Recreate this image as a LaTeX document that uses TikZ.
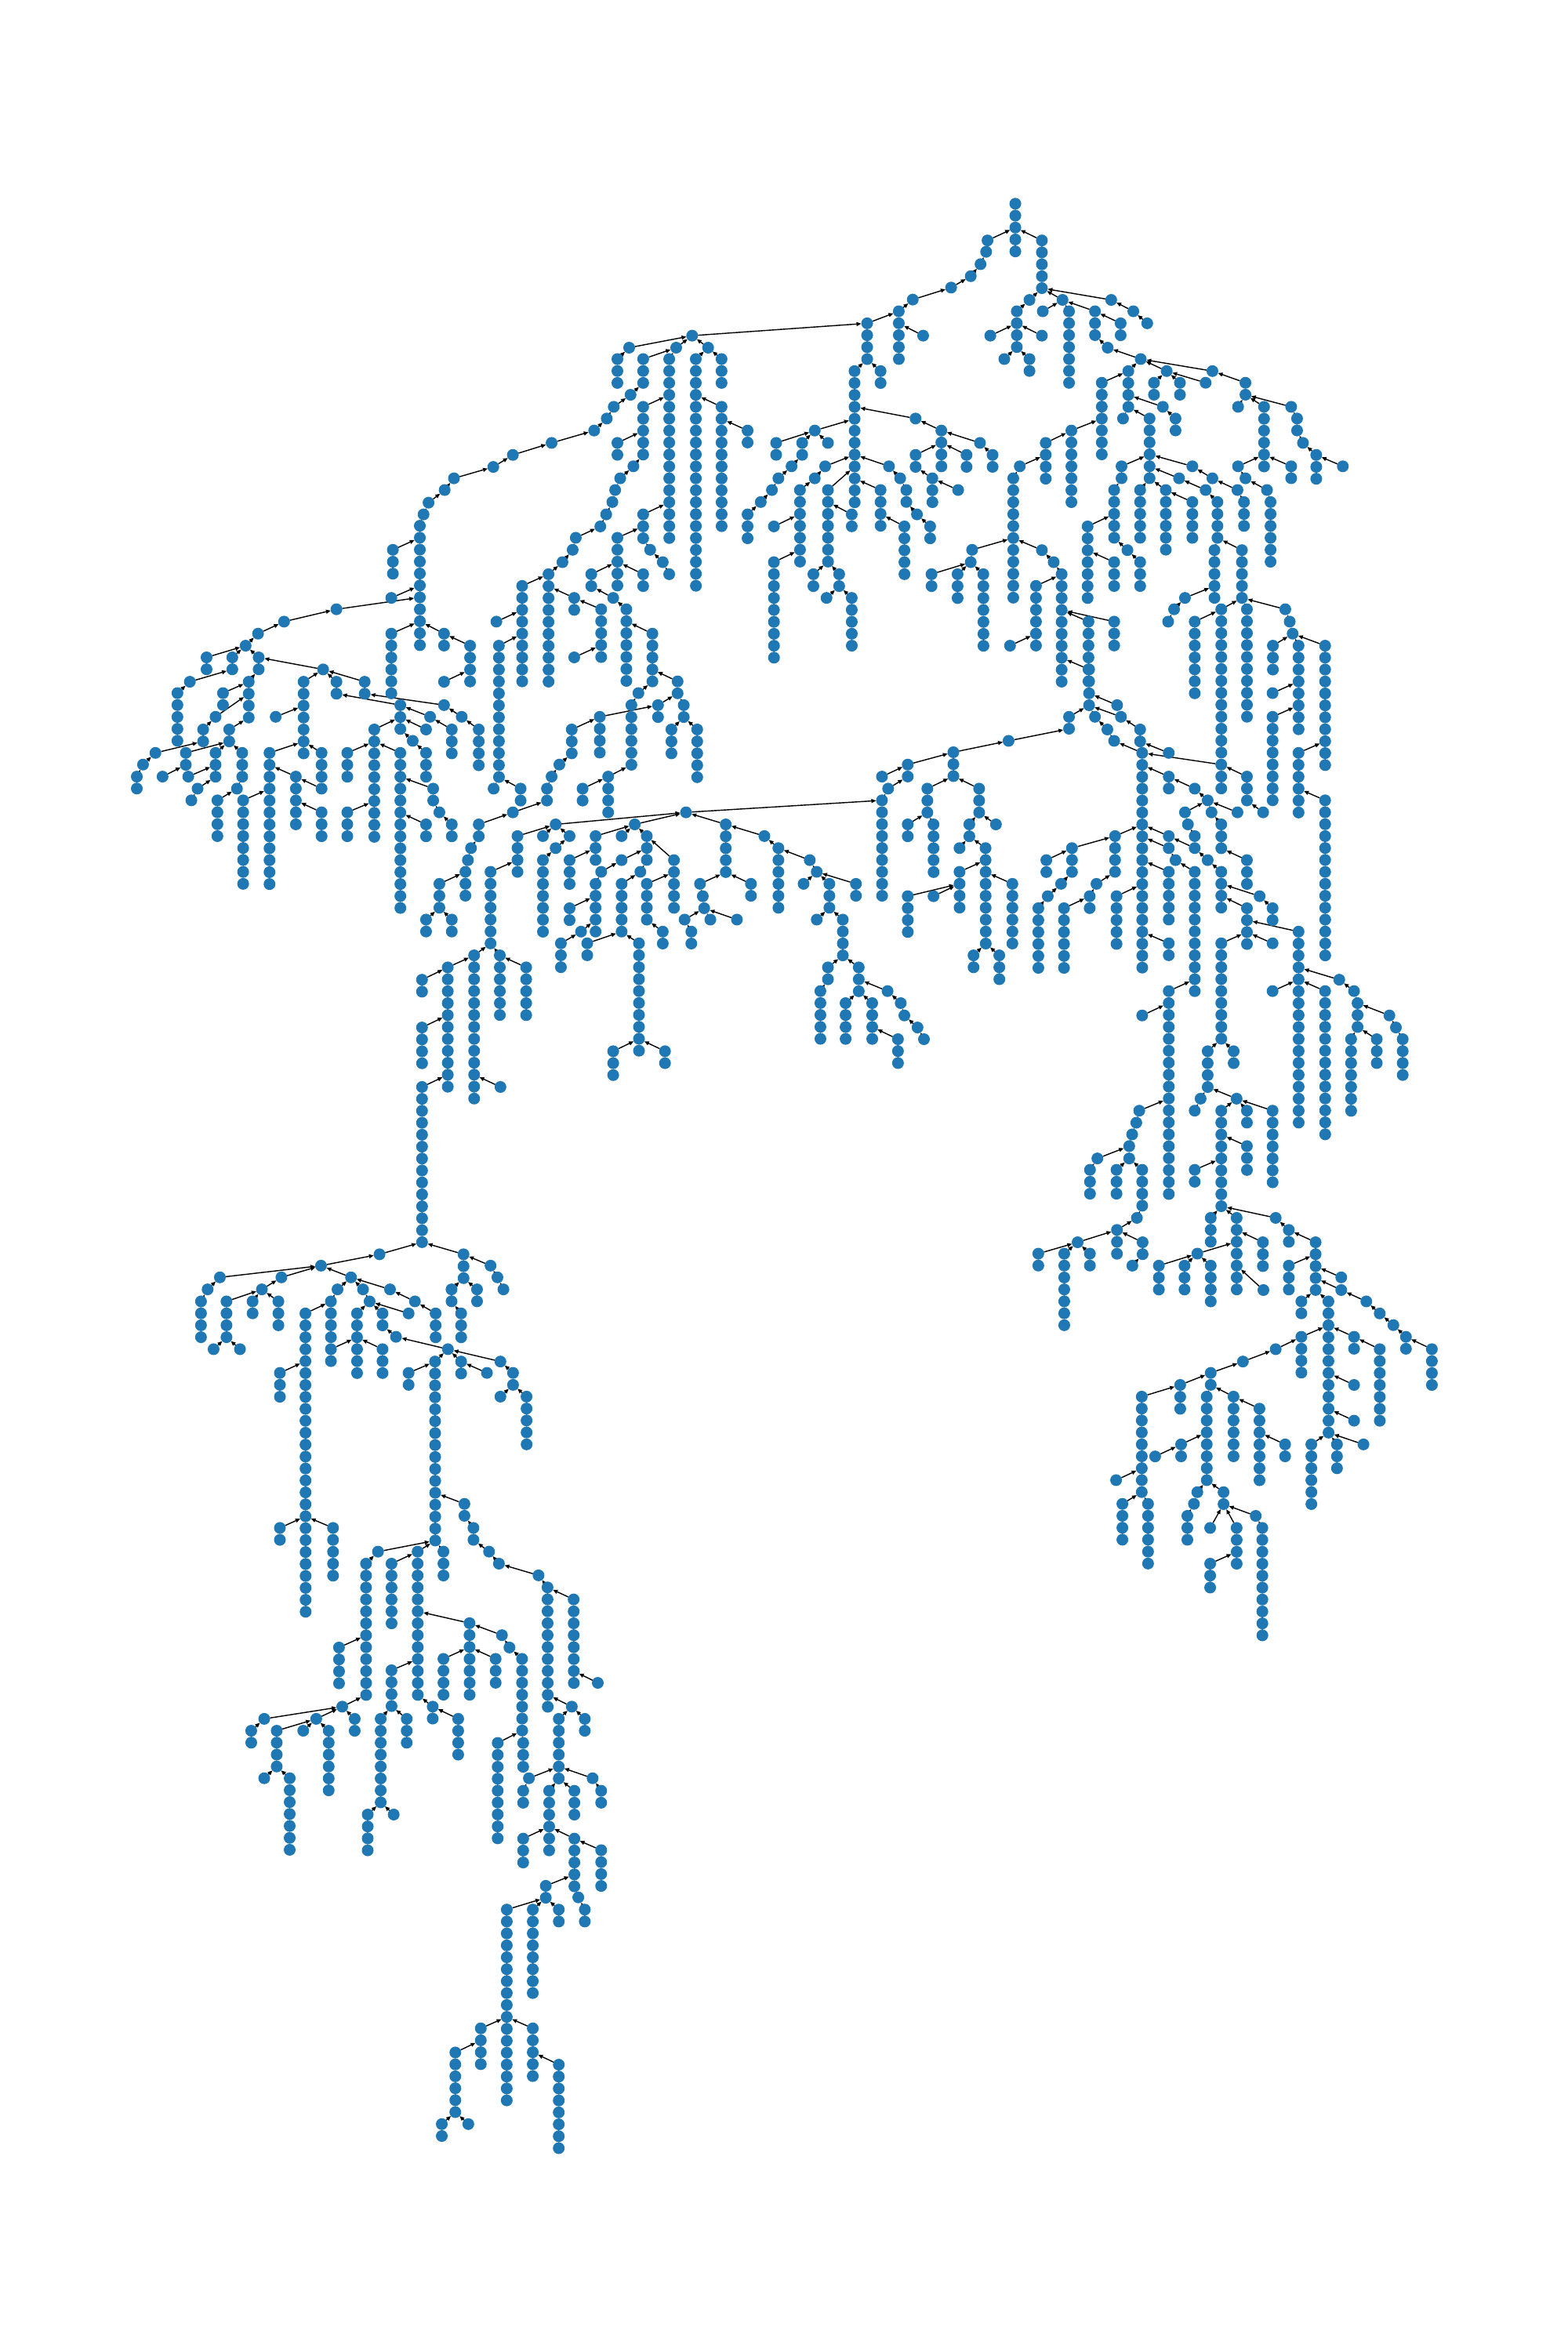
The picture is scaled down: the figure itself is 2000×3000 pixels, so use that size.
\documentclass[tikz,border=0pt]{standalone}
\usepackage{tikz}
\usepackage{xcolor}
\usetikzlibrary{
    arrows.meta, positioning, backgrounds
}
\definecolor{mblue}{HTML}{1f77b4}

\begin{document}
\begin{tikzpicture}[x=0.01cm, y=-0.01cm,
	leaf/.style={circle, fill=mblue, draw=none, inner sep=0pt, outer sep=0pt, minimum size=0.15cm},
	twig/.style={-{Triangle[length=0.6mm, width=0.5mm]}, line width=0.4pt, black}]
	\def\dotchain#1#2#3#4{
		\node[leaf] (#1-1) at (#2,#3) {};
		\ifnum#4>1
		\foreach \k [remember=\k as \j (initially 1)] in {2,...,#4}{
			\node[leaf, below=0.02mm of #1-\j] (#1-\k) {};
		}
		\fi
	}
	\def\chainlinks#1#2{
		\ifnum#2>1
		\foreach \k [remember=\k as \j (initially 1)] in {2,...,#2}{
			\draw[twig] (#1-\k) -- (#1-\j);
		}
		\fi
	}
	\useasboundingbox (0,0) rectangle (2000,3000);
%	\draw[red] (0,0) rectangle (2000,3000);

	\def\rowA{a1/1400/808/1, a2/1275/845/1, a3/1212/882/1, a4/1085/917/1, a5/1055/953/1,
		a6/1003/992/1, a7/987/1028/1, a8/975/1063/11, a9/888/1137/3, a10/883/1285/1, a11/706/1320/1,
		a12/537/1358/1, a13/453/1395/1, a14/413/1432/1, a15/287/1468/2, a16/370/1468/2, a17/233/1543/1,
		a18/455/1468/2, a19/423/1543/4, a20/663/1505/1, a21/600/1543/7, a22/706/1543/2, a23/797/1543/2,
		a25/883/1395/6, a26/1053/1395/2, a27/1137/1432/4, a28/1053/1543/1, a29/1222/1358/1, a30/1305/1248/9,
		a31/1390/1212/10, a32/1435/1175/1, a33/1468/1137/1, a34/1478/1100/1, a35/1473/1285/2, a36/1528/1212/2,
		a37/1473/1468/1, a38/1230/1432/12}
	\def\rowB{b1/1455/185/1, b2/1450/220/1, b3/1430/258/1, b4/1395/295/1, b5/1325/330/1,
		b6/1188/367/1, b7/1138/403/5, b8/1225/478/1, b9/1025/440/4, b10/1073/587/2, b11/980/587/12,
		b12/400/478/1, b13/175/515/1, b14/133/550/3, b15/343/515/1, b16/225/550/3, b17/318/550/16,
		b18/457/515/1, b19/413/550/20, b20/505/550/3, b21/505/697/11, b22/598/770/2, b23/180/660/1,
		b24/120/697/1, b25/95/733/1, b26/50/770/1, b27/225/697/5, b28/133/808/2, b29/190/880/1,
		b30/143/917/1, b31/125/953/1, b32/115/990/1, b33/93/1028/1, b34/72/1065/1, b35/225/1028/3,
		b36/133/1100/5, b37/250/1137/1, b38/295/1175/1, b39/318/1212/1, b40/225/1212/2, b42/118/1285/1,
		b43/75/1320/5, b44/165/1320/7, b45/258/1395/5, b47/1198/733/1, b48/1290/770/4, b49/1428/808/1,
		b50/1473/845/2, b51/1198/845/2, b52/1380/845/2, b53/1258/917/3, b54/1350/953/1, b55/838/770/1,
		b56/700/808/2, b57/793/808/2, b58/885/808/1, b59/755/880/1, b60/708/917/1, b61/685/953/1,
		b62/645/990/1, b63/598/1028/3, b64/875/880/1, b65/838/917/1, b66/785/953/7, b67/692/1065/1,
		b68/692/1175/9, b69/885/953/7, b70/970/1028/2, b71/1073/953/4, b72/1103/880/1, b73/1143/917/1,
		b74/1165/953/2, b75/1203/1028/1, b76/1250/1065/2, b77/1158/1065/5, b78/833/1212/2, b79/925/1212/2,
		b80/880/1285/1, b81/970/1285/5, b82/1400/1137/1, b83/1395/1175/1, b84/1255/1212/2, b85/1348/1212/3,
		b86/1440/1212/7, b89/1515/550/1, b90/1465/478/1}
	\def\rowC{c1/40/72/5, c2/130/185/5, c3/88/368/1, c4/200/368/1, c5/365/368/1,
		c6/45/403/4, c7/130/478/1, c8/88/550/2, c9/133/403/1, c10/222/403/7, c11/310/403/3, c12/397/440/2,
		c13/353/515/1, c14/465/550/1, c15/440/403/1, c16/487/440/1, c17/423/587/4, c18/553/587/1,
		c19/708/587/1, c20/510/623/2, c21/598/623/2, c22/685/623/1, c23/820/623/2, c24/795/697/1,
		c25/883/697/6, c26/975/697/1, c27/995/733/2, c28/1015/808/1, c29/1060/845/3, c30/1150/880/1,
		c31/795/880/1, c32/975/880/2, c33/820/917/1, c34/893/953/1, c35/905/990/6, c36/540/697/1,
		c37/583/733/2, c38/405/733/1, c39/495/733/6, c40/333/623/7, c41/230/770/7, c42/143/808/4,
		c43/55/880/1, c44/33/917/11, c45/130/1138/1, c46/170/1175/1, c47/197/1212/10, c48/110/1248/6,
		c49/22/1432/1, c50/288/1358/6, c51/375/1358/3, c52/290/1505/4, c53/400/880/2, c54/375/953/5,
		c55/420/1138/1, c56/463/1175/3, c57/285/1065/7, c58/375/1175/3, c59/640/880/1, c60/595/917/1,
		c61/463/953/5, c62/550/953/6, c63/640/990/4, c64/685/953/1, c65/725/990/4, c66/708/917/1,
		c67/793/953/1, c68/815/990/3, c69/715/1138/5, c70/808/1138/5, c71/615/1285/1, c72/578/1320/1,
		c73/558/1358/1, c74/738/1320/13, c75/825/1320/10, c76/955/1320/1, c77/648/1358/7, c78/970/1358/1,
		c79/980/1395/1, c80/913/1432/3, c81/1000/1432/8, c82/1090/1432/11}
	\def\rowD{d1/193/58/5, d2/340/58/2, d3/316/131/1, d4/276/170/2, d6/122/242/1,
		d7/82/278/1, d8/62/315/2, d9/360/170/2, d10/220/242/2, d11/316/242/3, d12/145/315/1, d13/228/315/1,
		d14/258/352/1, d15/238/388/1, d16/402/242/3, d17/385/352/1, d18/322/388/4, d19/405/388/8,
		d20/490/242/12, d21/510/131/1, d22/575/315/5, d23/658/352/1, d24/658/425/3, d25/658/242/3,
		d26/741/242/3, d27/912/95/3, d28/828/170/10, d29/741/425/3, d30/912/242/14, d31/1018/352/2,
		d32/1038/425/1, d33/1078/462/2, d34/995/462/2, d35/952/205/1, d36/995/242/3, d37/1008/131/1,
		d38/995/170/1, d39/1078/170/3, d40/1053/95/1, d41/1110/131/1, d42/1165/170/4, d43/1213/352/1,
		d44/1300/352/2, d45/1465/170/3, d46/1425/278/1, d47/1400/315/1, d48/1385/352/2, d49/1275/425/1,
		d50/1165/462/2, d51/1140/535/1, d52/1130/572/1, d53/1122/608/3, d54/1038/645/3, d55/995/755/2,
		d56/1078/755/2, d57/1500/352/2, d58/1413/462/1, d59/1290/498/4, d60/1372/498/1, d61/1458/498/1,
		d62/1413/535/1, d63/1372/572/7, d64/1203/608/7, d65/1150/865/13, d66/1233/865/6, d67/1318/902/5,
		d68/1065/902/11, d69/982/940/2, d70/982/1087/4, d71/1235/1270/1, d72/982/1270/14, d73/1458/572/3,
		d74/1458/720/2, d75/1430/828/3, d76/1495/792/1, d77/1515/828/2}
	\def\rowE{e1/348/22/2, e2/208/58/1, e3/183/95/6, e4/278/95/2, e5/370/95/2,
		e6/70/131/4, e7/326/170/3, e8/418/170/5, e9/100/315/4, e11/378/425/1, e12/1078/388/9,
		e14/1333/240/3, e15/1170/278/2, e16/1078/315/1, e17/1100/352/1, e18/1240/352/3, e19/1425/352/3,
		e20/1170/462/2, e21/1262/462/5, e22/1485/462/1, e23/1390/462/2, e24/1355/535/1, e25/1448/535/9,
		e26/1355/608/4, e27/1170/683/4, e28/1262/683/1, e30/1405/865/2, e31/1497/865/3, e32/520/462/5,
		e33/658/498/1, e34/708/535/6, e35/820/572/1, e36/845/608/1, e37/798/645/1, e38/890/645/3,
		e39/985/645/2, e40/845/755/1, e41/938/755/4, e42/885/902/2, e43/858/975/5, e44/995/902/3,
		e45/1098/975/1, e46/1145/1012/1, e47/1158/1050/1, e48/1205/1087/1, e49/1228/1123/1, e50/948/1012/4,
		e51/1043/1012/4, e52/1135/1123/3, e53/428/645/1, e54/438/683/1, e55/443/720/1, e56/373/755/1,
		e57/397/792/2, e58/465/755/1, e59/560/755/1, e60/610/645/2, e61/195/462/1, e62/148/498/1,
		e63/55/498/3, e65/238/498/3, e66/148/572/1, e67/75/608/1, e68/55/645/5, e69/215/608/1,
		e70/148/645/5, e71/238/645/4, e72/335/572/5, e74/295/792/2, e76/210/828/10, e77/118/1160/3,
		e78/303/1160/2}
	\def\rowF{f1/385/95/1, f2/398/131/1, f3/222/131/2, f4/310/131/1, f5/352/170/1,
		f6/375/205/1, f7/463/170/2, f8/470/242/19, f9/560/242/1, f10/17/205/1, f11/560/315/2, f12/648/352/1,
		f13/692/388/1, f14/615/425/1, f15/625/462/1, f16/648/498/1, f17/705/425/1, f18/738/462/3,
		f19/793/425/1, f20/825/572/3, f21/378/498/4, f22/315/645/1, f23/292/683/2, f24/205/720/6,
		f25/232/535/3, f26/145/572/2, f27/195/645/1, f28/150/683/1, f29/118/720/6, f30/30/645/6,
		f31/383/683/5, f32/560/498/1, f33/560/535/1, f34/583/572/1, f35/648/535/1, f36/692/572/1,
		f37/738/608/4, f38/648/608/11, f39/560/608/5, f40/868/683/1, f41/912/720/2, f42/825/720/4,
		f43/560/828/2, f44/738/828/9, f45/912/828/1, f46/1000/792/17, f48/912/58/1, f49/912/131/8,
		f50/1000/242/6, f51/1090/388/14, f52/825/315/3, f53/880/425/1, f55/738/278/3, f57/1138/940/1,
		f58/912/975/1, f59/1090/975/13, f60/1188/975/1, f61/1200/1012/3, f62/1308/1050/1, f63/1330/1087/1,
		f64/1353/1123/4, f65/1265/1123/3, f66/1178/1123/7, f69/692/1160/4, f70/780/1160/2, f71/668/1306/1,
		f72/648/1343/1, f73/790/1306/1, f74/738/1343/9, f75/825/1343/2, f76/912/1343/7, f77/825/1452/3,
		f78/648/1525/2, f79/560/975/18, f80/470/1050/1, f81/460/1343/1, f82/450/1380/1, f83/436/1416/1,
		f84/426/1452/1, f85/426/1490/1, f86/318/1490/1, f87/293/1525/3, f88/383/1525/3, f89/470/1525/4}
	\def\rowG{g1/690/265/1, g2/970/265/3, g3/1060/300/1, g4/1083/336/1, g5/1103/373/1,
		g6/930/373/2, g7/1015/373/2, g8/962/447/3, g9/495/300/1, g10/158/336/1, g11/363/336/1,
		g12/117/373/1, g13/95/410/4, g14/298/373/1, g15/180/410/4, g16/267/410/2, g17/353/410/3,
		g18/137/557/1, g19/225/557/1, g20/595/336/1, g21/550/373/1, g22/635/373/1, g23/725/373/1,
		g24/528/410/4, g25/443/447/26, g26/657/410/1, g27/615/447/6, g28/700/447/2, g29/808/410/1,
		g30/787/447/1, g31/877/447/3, g32/528/557/2, g33/700/557/3, g34/745/519/1, g35/918/557/1,
		g36/875/595/16, g37/962/595/2, g38/1048/630/1, g39/1093/595/1, g40/1135/630/2, g41/1093/703/1,
		g42/1180/703/5, g43/787/630/2, g44/358/630/3, g45/358/1107/2, g46/535/1107/5, g47/973/1033/2,
		g48/1003/1107/2, g49/1055/1180/1, g50/1088/1217/1, g51/1220/1253/1, g52/1250/1290/11,
		g53/1337/1327/8, g55/685/1180/1, g56/817/1180/13, g57/903/1180/3, g58/645/1217/12, g59/730/1217/6,
		g60/990/1400/7, g61/1098/1437/1, g62/1123/1475/1, g63/1165/1510/7, g64/903/1510/4, g65/1077/1510/3,
		g66/555/1475/4, g67/730/1545/4}
	\def\rowH{h1/413/153/1, h2/343/190/3, h3/205/228/1, h4/433/228/2, h5/397/300/1,
		h6/67/263/2, h7/158/263/7, h8/248/263/2, h10/900/153/1, h11/672/153/3, h12/763/153/7,
		h13/946/190/2, h14/1040/228/5, h15/855/228/3, h16/625/263/1, h17/490/300/3, h18/580/300/3,
		h19/672/300/4, h20/857/375/1, h21/946/300/3, h22/1130/336/1, h23/1130/375/1, h24/1218/410/1,
		h25/1265/447/1, h26/1313/483/1, h27/1357/519/2, h28/1448/557/4, h29/990/410/2, h30/1085/410/12,
		h31/1175/519/2, h32/1265/557/7, h33/1175/667/1, h34/1175/777/1, h35/1025/850/6, h36/1115/850/3,
		h37/1208/850/1, h38/990/519/4, h39/900/557/1, h40/785/595/1, h41/672/630/2, h42/565/667/3,
		h43/430/703/7, h44/340/960/1, h45/430/960/2, h46/362/1033/4, h47/452/1033/6, h48/658/703/8,
		h49/752/703/6, h50/843/740/7, h51/933/850/2, h52/568/850/2, h53/477/887/1, h54/625/997/1,
		h55/613/1033/1, h56/590/1070/3, h57/717/997/2, h58/670/1107/1, h59/763/1107/4, h60/830/1070/1,
		h61/853/1107/10, h62/670/1217/3}
	\def\rowI{i1/472/135/1, i2/520/172/2, i3/372/172/1, i4/172/172/1, i5/122/208/2,
		i6/220/208/4, i7/322/208/1, i8/420/208/6, i9/172/352/1, i10/270/352/7, i11/620/172/8, i12/720/172/3,
		i13/570/462/4, i14/670/462/1, i15/820/135/2, i16/918/172/4, i17/1070/245/9, i18/1168/245/3,
		i19/1355/135/1, i20/1305/172/6, i21/1405/172/2, i22/1190/352/1, i23/1168/390/2, i24/1435/352/1,
		i25/1468/390/2, i26/1365/390/3, i27/1268/390/6, i28/1168/535/3, i29/1365/535/5, i30/1468/570/4,
		i31/1380/713/1, i32/1405/750/2, i33/1255/678/2, i34/1305/750/2, i35/1105/750/17, i36/1205/750/8,
		i37/1005/1110/4, i38/907/1183/6, i39/855/1400/2, i40/957/1400/1, i41/1205/1110/5, i42/1305/1220/8,
		i43/1455/63/1}

	% upper left
	\begin{scope}[shift={(150,230)}, xscale=0.3954, yscale=0.4145]
	\foreach \nm/\px/\py/\cn in \rowA \dotchain{\nm}{\px}{\py}{\cn};
	\end{scope}
	% upper middle
	\begin{scope}[shift={(740,230)}, xscale=0.3571, yscale=0.4145]
	\foreach \nm/\px/\py/\cn in \rowB \dotchain{\nm}{\px}{\py}{\cn};
	\end{scope}
	% upper right
	\begin{scope}[shift={(1280,230)}, xscale=0.3763, yscale=0.4145]
	\foreach \nm/\px/\py/\cn in \rowC \dotchain{\nm}{\px}{\py}{\cn};
	\end{scope}
	% middle left
	\begin{scope}[shift={(150,860)}, xscale=0.3954, yscale=0.4145]
	\foreach \nm/\px/\py/\cn in \rowD \dotchain{\nm}{\px}{\py}{\cn};
	\end{scope}
	% middle
	\begin{scope}[shift={(740,860)}, xscale=0.3571, yscale=0.4145]
	\foreach \nm/\px/\py/\cn in \rowE \dotchain{\nm}{\px}{\py}{\cn};
	\end{scope}
	% middle right
	\begin{scope}[shift={(1280,860)}, xscale=0.3763, yscale=0.4145]
	\foreach \nm/\px/\py/\cn in \rowF \dotchain{\nm}{\px}{\py}{\cn};
	\end{scope}
	% lower left
	\begin{scope}[shift={(220,1490)}, xscale=0.3827, yscale=0.4145]
	\foreach \nm/\px/\py/\cn in \rowG \dotchain{\nm}{\px}{\py}{\cn};
	\end{scope}
	% lower right
	\begin{scope}[shift={(1300,1490)}, xscale=0.3635, yscale=0.4145]
	\foreach \nm/\px/\py/\cn in \rowH \dotchain{\nm}{\px}{\py}{\cn};
	\end{scope}
	% bottom
	\begin{scope}[shift={(280,2120)}, xscale=0.3316, yscale=0.4209]
	\foreach \nm/\px/\py/\cn in \rowI \dotchain{\nm}{\px}{\py}{\cn};
	\end{scope}

	% child -> parent
	\begin{scope}[on background layer]
	\foreach \nm/\px/\py/\cn in \rowA \chainlinks{\nm}{\cn};
	\foreach \nm/\px/\py/\cn in \rowB \chainlinks{\nm}{\cn};
	\foreach \nm/\px/\py/\cn in \rowC \chainlinks{\nm}{\cn};
	\foreach \nm/\px/\py/\cn in \rowD \chainlinks{\nm}{\cn};
	\foreach \nm/\px/\py/\cn in \rowE \chainlinks{\nm}{\cn};
	\foreach \nm/\px/\py/\cn in \rowF \chainlinks{\nm}{\cn};
	\foreach \nm/\px/\py/\cn in \rowG \chainlinks{\nm}{\cn};
	\foreach \nm/\px/\py/\cn in \rowH \chainlinks{\nm}{\cn};
	\foreach \nm/\px/\py/\cn in \rowI \chainlinks{\nm}{\cn};
	\foreach \ch/\pa in {a2-1/a1-1, a3-1/a2-1, a4-1/a3-1, a5-1/a4-1, a6-1/a5-1, a7-1/a6-1, a8-1/a7-1,
		a9-1/a8-2, a10-1/a8-6, a11-1/a8-7, a12-1/a11-1, a13-1/a12-1, a14-1/a13-1, a15-1/a14-1, a16-1/a14-1,
		a17-1/a16-2, a18-1/a14-1, a19-1/a18-2, a20-1/a18-1, a21-1/a20-1, a22-1/a20-1, a23-1/a20-1,
		a25-1/a8-9, a26-1/a8-9, a27-1/a26-1, a28-1/a27-3, a29-1/a30-3, a30-1/a31-1, a31-1/a32-1,
		a32-1/a33-1, a33-1/a34-1, a35-1/a31-2, a38-1/a30-5, a1-1/b26-1, a34-1/b34-1, a36-1/b36-3, a37-1/b43-4,
		d1-1/a17-1, d2-1/a19-1, d3-1/a19-2, d4-1/d3-1, d6-1/d4-2, d7-1/d6-1, d8-1/d7-1, d9-1/a19-4,
		d10-1/d9-2, d11-1/d9-2, d12-1/d10-2, d13-1/d11-2, d14-1/d11-3, d15-1/d14-1, d16-1/d9-2, d17-1/d16-3,
		d18-1/d17-1, d19-1/d20-4, d20-1/a21-6, d21-1/a21-3, d22-1/d20-2, d23-1/d22-1, d24-1/d22-3,
		d25-1/a21-6, d26-1/d28-2, d27-1/a22-2, d28-1/d27-2, d29-1/d28-7, d30-1/d28-2, d31-1/d30-3,
		d32-1/d31-2, d33-1/d32-1, d34-1/d30-6, d35-1/d27-3, d36-1/d35-1, d37-1/d27-1, d38-1/d27-2,
		d39-1/d37-1, d40-1/a23-2, d41-1/d40-1, d42-1/d41-1, d43-1/a38-12, d44-1/a38-12, d46-1/d45-3,
		d47-1/d46-1, d48-1/d47-1, d49-1/d48-2, d50-1/d49-1, d51-1/d50-2, d52-1/d51-1, d53-1/d52-1,
		d54-1/d53-1, d55-1/d54-3, d56-1/d54-3, d59-1/d58-1, d60-1/d58-1, d61-1/d58-1, d62-1/d61-1,
		d63-1/d62-1, d64-1/d59-3, d65-1/d64-7, d66-1/d64-7, d67-1/d66-1, d68-1/d65-1, d69-1/d68-1,
		d70-1/d68-5, d71-1/d65-11, d72-1/d68-10, d75-1/d76-1, d45-1/e6-1, d57-1/e9-1, d58-1/e11-1,
		d73-1/e63-2, d74-1/e68-2, d76-1/e68-4, d77-1/e70-5,
		b2-1/b1-1, b3-1/b2-1, b4-1/b3-1, b5-1/b4-1, b6-1/b5-1, b7-1/b6-1, b8-1/b7-2, b9-1/b7-1,
		b10-1/b9-4, b11-1/b9-4, b12-1/b9-1, b13-1/b12-1, b14-1/b13-1, b15-1/b12-1, b16-1/b15-1,
		b17-1/b15-1, b18-1/b12-1, b19-1/b18-1, b20-1/b18-1, b21-1/b19-4, b22-1/b21-2, b23-1/b16-3,
		b24-1/b23-1, b25-1/b24-1, b26-1/b25-1, b27-1/b17-4, b28-1/b27-3, b29-1/b27-5, b30-1/b29-1,
		b31-1/b30-1, b32-1/b31-1, b33-1/b32-1, b34-1/b33-1, b35-1/b17-13, b36-1/b35-2, b37-1/b35-3,
		b38-1/b37-1, b39-1/b38-1, b40-1/b36-3, b42-1/a36-2, b43-1/a35-1, b44-1/b42-1, b45-1/b44-2,
		b47-1/b11-4, b48-1/b47-1, b49-1/b48-1, b50-1/b49-1, b51-1/b48-2, b52-1/b48-2, b53-1/b51-2,
		b54-1/b53-1, b55-1/b11-5, b56-1/b55-1, b57-1/b55-1, b58-1/b55-1, b59-1/b57-2, b60-1/b59-1,
		b61-1/b60-1, b62-1/b61-1, b63-1/b62-1, b64-1/b11-8, b65-1/b64-1, b66-1/b65-1, b67-1/b66-3,
		b68-1/b66-6, b69-1/b11-9, b70-1/b69-2, b71-1/b11-10, b72-1/b11-8, b73-1/b72-1, b74-1/b73-1,
		b75-1/b74-2, b76-1/b75-1, b77-1/b71-3, b78-1/b69-7, b79-1/b69-7, b80-1/b79-2, b81-1/b79-2,
		b82-1/c44-6, b83-1/b82-1, b84-1/b83-1, b85-1/b83-1, b86-1/b83-1, b89-1/c6-4, b90-1/c6-2, b1-1/c1-3,
		c2-1/c1-3, c3-1/c2-5, c4-1/c2-5, c5-1/c2-5, c6-1/c3-1, c7-1/c6-2, c8-1/c6-4, c9-1/c4-1, c10-1/c4-1,
		c11-1/c4-1, c12-1/c11-1, c13-1/c11-3, c14-1/c13-1, c15-1/c5-1, c16-1/c15-1, c17-1/c14-1,
		c18-1/c14-1, c19-1/c14-1, c20-1/c18-1, c21-1/c18-1, c22-1/c18-1, c23-1/c19-1, c24-1/c23-2,
		c25-1/c23-2, c26-1/c23-2, c27-1/c26-1, c28-1/c27-2, c29-1/c28-1, c30-1/c29-1, c31-1/c25-5,
		c32-1/c25-5, c33-1/c31-1, c34-1/c33-1, c35-1/c34-1, c36-1/c17-3, c37-1/c36-1, c38-1/c17-4,
		c39-1/c17-4, c40-1/c17-1, c41-1/c40-4, c42-1/c41-1, c43-1/c42-2, c44-1/c43-1, c45-1/c44-6,
		c46-1/c45-1, c47-1/c46-1, c48-1/c47-1, c49-1/c48-5, c50-1/c47-4, c51-1/c47-4, c52-1/c47-8,
		c53-1/c39-4, c54-1/c53-2, c55-1/c54-5, c56-1/c55-1, c57-1/c54-3, c58-1/c57-3, c59-1/c39-4,
		c60-1/c39-5, c61-1/c39-6, c62-1/c39-6, c63-1/c62-1, c64-1/c60-1, c65-1/c64-1, c66-1/c59-1,
		c67-1/c66-1, c68-1/c67-1, c69-1/c65-4, c70-1/c65-4, c71-1/c69-4, c72-1/c71-1, c73-1/c72-1,
		c74-1/c70-5, c75-1/c70-5, c76-1/c70-5, c77-1/c74-1, c78-1/c76-1, c79-1/c78-1, c80-1/c79-1,
		c81-1/c79-1, c82-1/c79-1,
		e1-1/b45-4, e2-1/b45-5, e3-1/e2-1, e4-1/e1-2, e5-1/e1-2, e6-1/e4-1, e7-1/e5-2, e8-1/e5-2,
		e9-1/e3-6, e11-1/e12-1, e12-1/e17-1, e14-1/f10-1, e15-1/e14-1, e16-1/e15-1, e17-1/e15-2,
		e18-1/e14-3, e19-1/e14-3, e20-1/e18-3, e21-1/e18-3, e22-1/e19-3, e23-1/e19-3, e24-1/e23-2,
		e25-1/e23-2, e26-1/e25-2, e27-1/e26-2, e28-1/e26-2, e30-1/e25-9, e31-1/e25-9, e32-1/e11-1,
		e33-1/e32-1, e34-1/e33-1, e35-1/e34-1, e36-1/e35-1, e37-1/e36-1, e38-1/e36-1, e39-1/e36-1,
		e40-1/e38-3, e41-1/e38-3, e42-1/e41-4, e43-1/e42-2, e44-1/e41-4, e45-1/e44-2, e46-1/e45-1,
		e47-1/e46-1, e48-1/e47-1, e49-1/e48-1, e50-1/e44-3, e51-1/e44-3, e52-1/e51-3, e53-1/e32-5,
		e54-1/e53-1, e55-1/e54-1, e56-1/e55-1, e57-1/e56-1, e58-1/e55-1, e59-1/e55-1, e60-1/e32-5,
		e61-1/e11-1, e62-1/e61-1, e63-1/e61-1, e65-1/e61-1, e66-1/e65-2, e67-1/e66-1, e68-1/e67-1,
		e69-1/e65-3, e70-1/e69-1, e71-1/e72-2, e72-1/e65-1, e74-1/e71-4, e76-1/e70-5, e77-1/e76-9,
		e78-1/e76-9,
		f1-1/c52-3, f2-1/c52-4, f3-1/c52-4, f4-1/c52-4, f5-1/f4-1, f6-1/f5-1, f7-1/f2-1, f8-1/f6-1,
		f9-1/f7-2, f10-1/f3-2, f11-1/f8-2, f12-1/f11-1, f13-1/f12-1, f14-1/f13-1, f15-1/f14-1,
		f16-1/f15-1, f17-1/f13-1, f18-1/f17-1, f19-1/f13-1, f20-1/f18-3, f21-1/f8-7, f22-1/f21-4,
		f23-1/f22-1, f24-1/f23-1, f25-1/f21-1, f26-1/f25-1, f27-1/f25-3, f28-1/f27-1, f29-1/f28-1,
		f30-1/e25-3, f31-1/f8-12, f32-1/f8-7, f33-1/f8-8, f34-1/f33-1, f35-1/f32-1, f36-1/f35-1,
		f37-1/f36-1, f38-1/f34-1, f39-1/f8-10, f40-1/f37-2, f41-1/f40-1, f42-1/f37-3, f43-1/f8-16,
		f44-1/f42-3, f45-1/f42-3, f46-1/f42-2, f48-1/c81-4, f49-1/c81-6, f50-1/c82-9, f51-1/f50-4,
		f52-1/f55-1, f53-1/f52-3, f55-1/f8-1, f57-1/f46-4, f58-1/f46-5, f59-1/f46-5, f60-1/f57-1,
		f61-1/f60-1, f62-1/f61-1, f63-1/f62-1, f64-1/f63-1, f65-1/f61-3, f66-1/f61-3, f69-1/f44-9,
		f70-1/f44-9, f71-1/f69-4, f72-1/f71-1, f73-1/f69-4, f74-1/f73-1, f75-1/f73-1, f76-1/f73-1,
		f77-1/f74-3, f78-1/f74-5, f79-1/f38-10, f80-1/f79-2, f81-1/f79-10, f82-1/f81-1, f83-1/f82-1,
		f84-1/f83-1, f85-1/f84-1, f86-1/f84-1, f87-1/f86-1, f88-1/f85-1, f89-1/f85-1,
		g1-1/d72-14, g2-1/d72-14, g3-1/g2-1, g4-1/g3-1, g5-1/g4-1, g6-1/g2-3, g7-1/g2-3, g8-1/g6-2,
		g9-1/g1-1, g10-1/g9-1, g11-1/g9-1, g12-1/g10-1, g13-1/g12-1, g14-1/g11-1, g15-1/g14-1,
		g16-1/g14-1, g17-1/g14-1, g18-1/g15-4, g19-1/g15-4, g20-1/g9-1, g21-1/g20-1, g22-1/g20-1,
		g23-1/g20-1, g24-1/g21-1, g25-1/g24-1, g26-1/g22-1, g27-1/g26-1, g28-1/g26-1, g29-1/g23-1,
		g30-1/g26-1, g31-1/g29-1, g32-1/g27-3, g33-1/g27-3, g34-1/g28-2, g35-1/g34-1, g36-1/g35-1,
		g37-1/g35-1, g38-1/g37-1, g39-1/g35-1, g40-1/g39-1, g41-1/g40-2, g42-1/g40-2, g43-1/g36-1,
		g44-1/g25-5, g45-1/g25-18, g46-1/g25-18, g47-1/g36-12, g48-1/g47-2, g49-1/g48-2, g50-1/g49-1,
		g51-1/g50-1, g52-1/g51-1, g53-1/g52-1, g55-1/g36-16, g56-1/g36-16, g57-1/g36-16, g58-1/g55-1,
		g59-1/g56-1, g60-1/g56-6, g61-1/g60-1, g62-1/g61-1, g63-1/g62-1, g64-1/g60-3, g65-1/g60-3,
		g66-1/g58-7, g67-1/g56-10,
		h1-1/f89-4, h2-1/h1-1, h3-1/h2-1, h4-1/h2-1, h5-1/h4-2, h6-1/h3-1, h7-1/h3-1, h8-1/h3-1,
		h10-1/f74-9, h11-1/f74-9, h12-1/f74-9, h13-1/h10-1, h14-1/h13-1, h15-1/h12-2, h16-1/h12-3,
		h17-1/h16-1, h18-1/h16-1, h19-1/h16-1, h20-1/h12-5, h21-1/h14-2, h22-1/h14-3, h23-1/h14-4,
		h24-1/h23-1, h25-1/h24-1, h26-1/h25-1, h27-1/h26-1, h28-1/h27-1, h29-1/h14-5, h30-1/h14-5,
		h31-1/h30-3, h32-1/h31-1, h33-1/h30-7, h34-1/h30-10, h35-1/h30-12, h36-1/h30-12, h37-1/h30-12,
		h38-1/h30-3, h39-1/h38-1, h40-1/h39-1, h41-1/h40-1, h42-1/h41-1, h43-1/h42-1, h44-1/h43-7,
		h45-1/h43-7, h46-1/h45-2, h47-1/h45-2, h48-1/h41-2, h49-1/h41-2, h50-1/h49-1, h51-1/h50-3,
		h52-1/h48-4, h53-1/h52-1, h54-1/h48-8, h55-1/h54-1, h56-1/h55-1, h57-1/h48-8, h58-1/h57-2,
		h59-1/h57-2, h60-1/h57-2, h61-1/h60-1, h62-1/h59-3,
		i1-1/g58-12, i2-1/i1-1, i3-1/i1-1, i4-1/i1-1, i5-1/i4-1, i6-1/i3-1, i7-1/i3-1, i8-1/i3-1,
		i9-1/i6-4, i10-1/i6-4, i11-1/g67-4, i12-1/g67-4, i13-1/i11-8, i14-1/i11-8, i15-1/g56-13,
		i16-1/i15-1, i17-1/g63-7, i18-1/g63-7, i19-1/g52-10, i20-1/i19-1, i21-1/i19-1, i22-1/i20-5,
		i23-1/i22-1, i24-1/i20-5, i25-1/i24-1, i26-1/i20-6, i27-1/i20-6, i28-1/i27-4, i29-1/i27-4,
		i30-1/i29-1, i31-1/i29-5, i32-1/i31-1, i33-1/i29-4, i34-1/i33-2, i35-1/i33-2, i36-1/i33-2,
		i37-1/i35-10, i38-1/i37-2, i39-1/i38-6, i40-1/i38-6, i41-1/i35-10, i42-1/i41-3, i43-1/g53-7}
		\draw[twig] (\ch) -- (\pa);
	\end{scope}
\end{tikzpicture}
\end{document}
